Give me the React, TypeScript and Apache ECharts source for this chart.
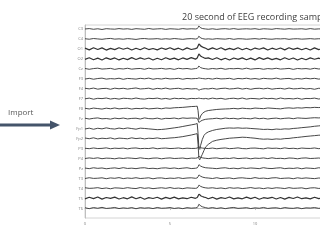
import React, { useEffect, useRef } from "react";
import * as echarts from "echarts";

const titleText = "20 second of EEG recording samples";
const importText = "Import";
const channels = ["C3","C4","O1","O2","Cz","F3","F4","F7","F8","Fz","Fp1","Fp2","P3","P4","Pz","T3","T4","T5","T6"];
const xTicks = [0, 5, 10, 15, 20];
const visibleXLabels = [0, 5, 10];

// sample times (s)
const times = [0,0.25,0.5,0.75,1,1.25,1.5,1.75,2,2.25,2.5,2.75,3,3.25,3.5,3.75,4,4.25,4.5,4.75,5,5.25,5.5,5.75,6,6.25,6.5,
  6.6,6.65,6.7,6.75,6.8,6.9,7,7.1,
  7.25,7.5,7.75,8,8.25,8.5,8.75,9,9.25,9.5,9.75,10,10.25,10.5,10.75,11,11.25,11.5,11.75,12,12.25,12.5,12.75,13,13.25,13.5,13.75,14];

// amplitudes (µV, 100 µV = one channel spacing)
const C3 = [0,4,-3,2,-5,3,0,-2,4,-1,2,-4,3,0,-3,5,-2,1,3,-4,2,0,-3,4,-1,2,0,
  3,15,30,22,12,5,2,0,
  -3,2,-4,1,3,-2,4,-3,0,2,-1,3,-4,2,0,-3,4,1,-2,3,-1,0,2,-3,4,-2,1,0];
const C4 = [2,-3,4,0,-4,2,5,-2,1,-3,3,0,-5,2,4,-1,0,3,-3,2,-2,4,0,-4,1,3,-1,
  2,12,28,20,10,4,0,-2,
  1,-3,3,0,-2,4,-4,2,1,-3,0,3,-2,4,-1,-3,2,0,3,-4,1,2,-2,0,3,-1,2,0];
const O1 = [8,-10,12,-6,10,-12,5,-8,11,-4,9,-11,6,-9,12,-7,4,-10,9,-5,11,-8,7,-12,10,-6,3,
  10,30,50,42,30,20,12,6,
  -8,10,-6,12,-10,5,-7,11,-9,6,-12,8,-4,10,-11,7,-6,9,-10,12,-5,8,-9,6,-11,10,-7,4];
const O2 = [-6,11,-9,7,-12,10,-5,9,-11,6,-8,12,-7,10,-4,8,-12,6,-9,11,-6,7,-10,9,-5,12,-3,
  8,28,48,40,28,18,10,5,
  9,-7,11,-10,6,-12,8,-5,10,-9,7,-11,12,-6,9,-8,5,-10,11,-7,8,-12,6,-9,10,-4,7,-6];
const Cz = [3,-5,2,6,-3,0,4,-6,2,-2,5,-4,1,3,-5,6,-2,0,4,-3,2,-6,5,-1,3,-4,2,
  5,14,28,20,12,6,2,0,
  -4,3,-2,5,-5,2,0,4,-3,6,-4,1,3,-5,2,-2,5,-3,0,4,-6,3,-1,2,-4,5,-2,1];
const F3 = [-3,4,-5,2,6,-4,1,-2,5,-6,3,0,-4,4,-1,6,-5,2,-3,5,-2,0,4,-5,3,-1,2,
  2,5,8,6,4,2,0,-2,
  3,-4,5,-2,0,4,-6,3,-1,5,-3,2,-5,4,0,-2,6,-4,1,3,-5,2,-3,5,-1,4,-4,2];
const F4 = [4,-2,6,-5,1,3,-6,5,-1,4,-4,2,7,-3,0,5,-6,3,-2,6,-4,1,4,-5,2,-3,0,
  -2,-8,-15,-12,-8,-4,-1,0,
  -3,4,-5,2,5,-3,0,6,-4,3,-6,2,4,-2,5,-5,1,3,-4,6,-2,0,5,-3,2,-6,4,1];
const F7 = [-2,5,-6,3,0,6,-4,2,-5,4,1,-3,6,-2,-5,3,0,5,-4,2,-6,4,-1,3,-5,2,0,
  1,3,5,3,1,0,-2,2,
  -4,5,-2,3,-6,1,4,-3,6,-5,2,0,-4,5,-1,3,-5,6,-2,1,-3,4,-6,2,0,5,-4,3];
const F8 = [3,-4,5,0,-5,4,-2,6,-3,1,4,-5,2,-1,5,-3,0,4,-2,6,3,8,10,12,16,20,22,
  24,-20,-110,-100,-75,-50,-36,-27,
  -20,-14,-9,-6,-4,-2,2,-3,4,0,-2,5,2,-1,6,3,0,-3,4,7,3,8,5,10,8,12,10,14];
const Fz = [3,-5,2,6,-3,0,-6,4,-2,5,-4,1,3,-5,6,-1,-3,4,-6,2,0,5,-3,6,2,5,4,
  2,-15,-40,-35,-26,-18,-12,-8,
  -5,-2,3,-4,5,-1,2,-5,4,0,-3,6,-2,3,-5,1,4,-3,2,5,-2,6,3,1,5,8,6,9];
const Fp1 = [-5,3,-8,2,-4,6,-2,-6,4,-3,5,-1,-7,3,0,-4,-8,-12,-10,-6,0,6,12,20,28,36,44,
  50,-50,-200,-210,-170,-110,-70,-50,
  -35,-20,-10,-4,2,5,3,6,2,4,0,-3,-6,-10,-8,-12,-6,-9,-4,-6,0,3,8,12,16,22,26,30];
const Fp2 = [4,-3,6,-5,2,-2,5,-6,3,0,-4,6,-2,3,-5,2,-1,5,-3,0,4,7,12,18,26,34,44,
  48,-60,-200,-215,-195,-160,-120,-85,
  -60,-30,-18,-10,-4,2,5,8,12,10,6,2,-4,-8,-6,-10,-5,-8,-2,0,6,10,15,20,24,28,32,34];
const P3 = [1,-3,4,-2,0,5,-4,2,-1,3,-5,2,4,-3,0,-2,5,-4,1,3,-2,0,4,-3,2,-1,0,
  3,10,15,10,6,3,1,0,
  -2,3,-4,1,4,-3,0,5,-2,-4,2,3,-1,-5,4,0,2,-3,5,-2,1,-4,3,0,-1,4,-3,2];
const P4 = [-2,4,-1,5,-4,2,0,-5,3,-2,4,1,-3,5,-1,-4,2,3,-5,1,4,-2,0,3,-4,2,1,
  4,12,20,16,10,5,2,0,
  -3,2,4,-4,1,-2,5,-3,0,3,-5,2,-1,4,-3,5,-2,0,-4,3,1,-5,2,4,-2,0,3,-3];
const Pz = [2,-4,5,-1,3,-5,0,4,-3,6,-2,1,-4,3,5,-3,0,-5,2,4,-2,3,-4,1,5,-3,0,
  4,15,35,30,22,14,9,5,
  3,0,-4,2,5,-3,1,-5,4,-2,3,0,-4,6,-1,-3,2,5,-4,1,-2,4,-5,3,0,-3,5,-1];
const T3 = [-3,5,-2,0,4,-5,3,-1,6,-4,2,-2,5,-3,0,4,-6,2,3,-4,1,-2,5,-3,2,4,-1,
  3,14,32,28,20,12,7,4,
  2,-3,5,-4,0,3,-5,2,4,-1,-3,6,-2,1,-4,3,5,-3,0,2,-5,4,-2,3,-1,-4,2,0];
const T4 = [4,-2,0,5,-4,2,-6,3,1,-3,5,-1,-4,6,-2,3,-5,0,4,-2,6,-3,1,-5,3,0,-2,
  2,12,30,26,18,11,6,3,
  0,4,-3,2,-5,5,-1,3,-4,0,6,-2,2,-5,3,-3,4,1,-4,5,-2,0,3,-6,2,4,-3,1];
const T5 = [-8,9,-5,11,-10,6,-3,10,-9,4,-7,12,-6,8,-11,5,-4,9,-10,7,-5,10,-8,3,-6,9,-2,
  6,20,40,34,24,16,10,6,
  -6,8,-10,5,-4,11,-8,3,-7,10,-5,9,-11,4,-3,8,-9,6,-10,7,-4,11,-6,2,-8,9,-5,4];
const T6 = [3,-6,5,-2,7,-4,0,6,-5,2,-3,5,-7,4,-1,3,-5,6,-2,0,5,-4,2,-6,4,-1,2,
  5,18,38,32,22,13,8,4,
  -2,5,-4,3,-6,2,6,-3,0,4,-5,2,-2,6,-4,1,3,-5,5,-1,-3,4,-6,2,0,5,-3,2];

const signals = [C3,C4,O1,O2,Cz,F3,F4,F7,F8,Fz,Fp1,Fp2,P3,P4,Pz,T3,T4,T5,T6];
const thick = ["O1","O2","T5"];

export default function App() {
  const ref = useRef<HTMLDivElement>(null);
  useEffect(() => {
    if (!ref.current) return;
    const chart = echarts.init(ref.current, null, { renderer: "svg" });
    const n = channels.length;
    const series = channels.map((name, i) => {
      const offset = n - 1 - i;
      const vals = signals[i];
      return {
        type: "line",
        name,
        showSymbol: false,
        symbol: "none",
        smooth: false,
        lineStyle: { color: "#333333", width: thick.includes(name) ? 1.2 : 0.9 },
        data: times.map((t, k) => [t, offset + vals[k] / 100]),
      };
    });
    chart.setOption({
      animation: false,
      title: {
        text: titleText,
        left: 177,
        top: 7,
        textStyle: { fontFamily: "Open Sans", fontSize: 9, fontWeight: "normal", color: "#404040" },
      },
      grid: {
        left: 85, top: 25, bottom: 22, width: 340,
        outerBoundsMode: "none",
        containLabel: false,
        show: true, borderColor: "#d4d4d4", borderWidth: 1,
      },
      xAxis: {
        type: "value",
        min: xTicks[0],
        max: xTicks[xTicks.length - 1],
        interval: 5,
        axisLine: { lineStyle: { color: "#bfbfbf" } },
        axisTick: { show: true, length: 2, lineStyle: { color: "#bfbfbf" } },
        splitLine: { show: false },
        axisLabel: {
          fontSize: 4, color: "#808080", margin: 3, fontFamily: "Open Sans",
          formatter: (v: number) => (visibleXLabels.includes(v) ? String(v) : ""),
        },
      },
      yAxis: {
        type: "value",
        min: -1,
        max: 18.4,
        interval: 1,
        axisLine: { show: true, lineStyle: { color: "#bfbfbf" } },
        axisTick: { show: false },
        splitLine: { show: false },
        axisLabel: {
          fontSize: 4,
          color: "#808080",
          margin: 2,
          fontFamily: "Open Sans",
          showMaxLabel: false,
          formatter: (v: number) => {
            if (!Number.isInteger(v) || v < 0 || v > n - 1) return "";
            return channels[n - 1 - v];
          },
        },
      },
      graphic: [
        {
          type: "text",
          left: 8,
          top: 107,
          style: { text: importText, fontSize: 8, fontFamily: "Open Sans", fill: "#595959" },
        },
        {
          type: "rect",
          shape: { x: 0, y: 123.5, width: 51, height: 3 },
          style: { fill: "#44546a" },
        },
        {
          type: "polygon",
          shape: { points: [[50, 120.5], [60, 125], [50, 129.5]] },
          style: { fill: "#44546a" },
        },
      ],
      series,
    });
    return () => chart.dispose();
  }, []);
  return <div ref={ref} style={{ position: "fixed", left: 0, top: 0, width: 320, height: 240 }} />;
}
